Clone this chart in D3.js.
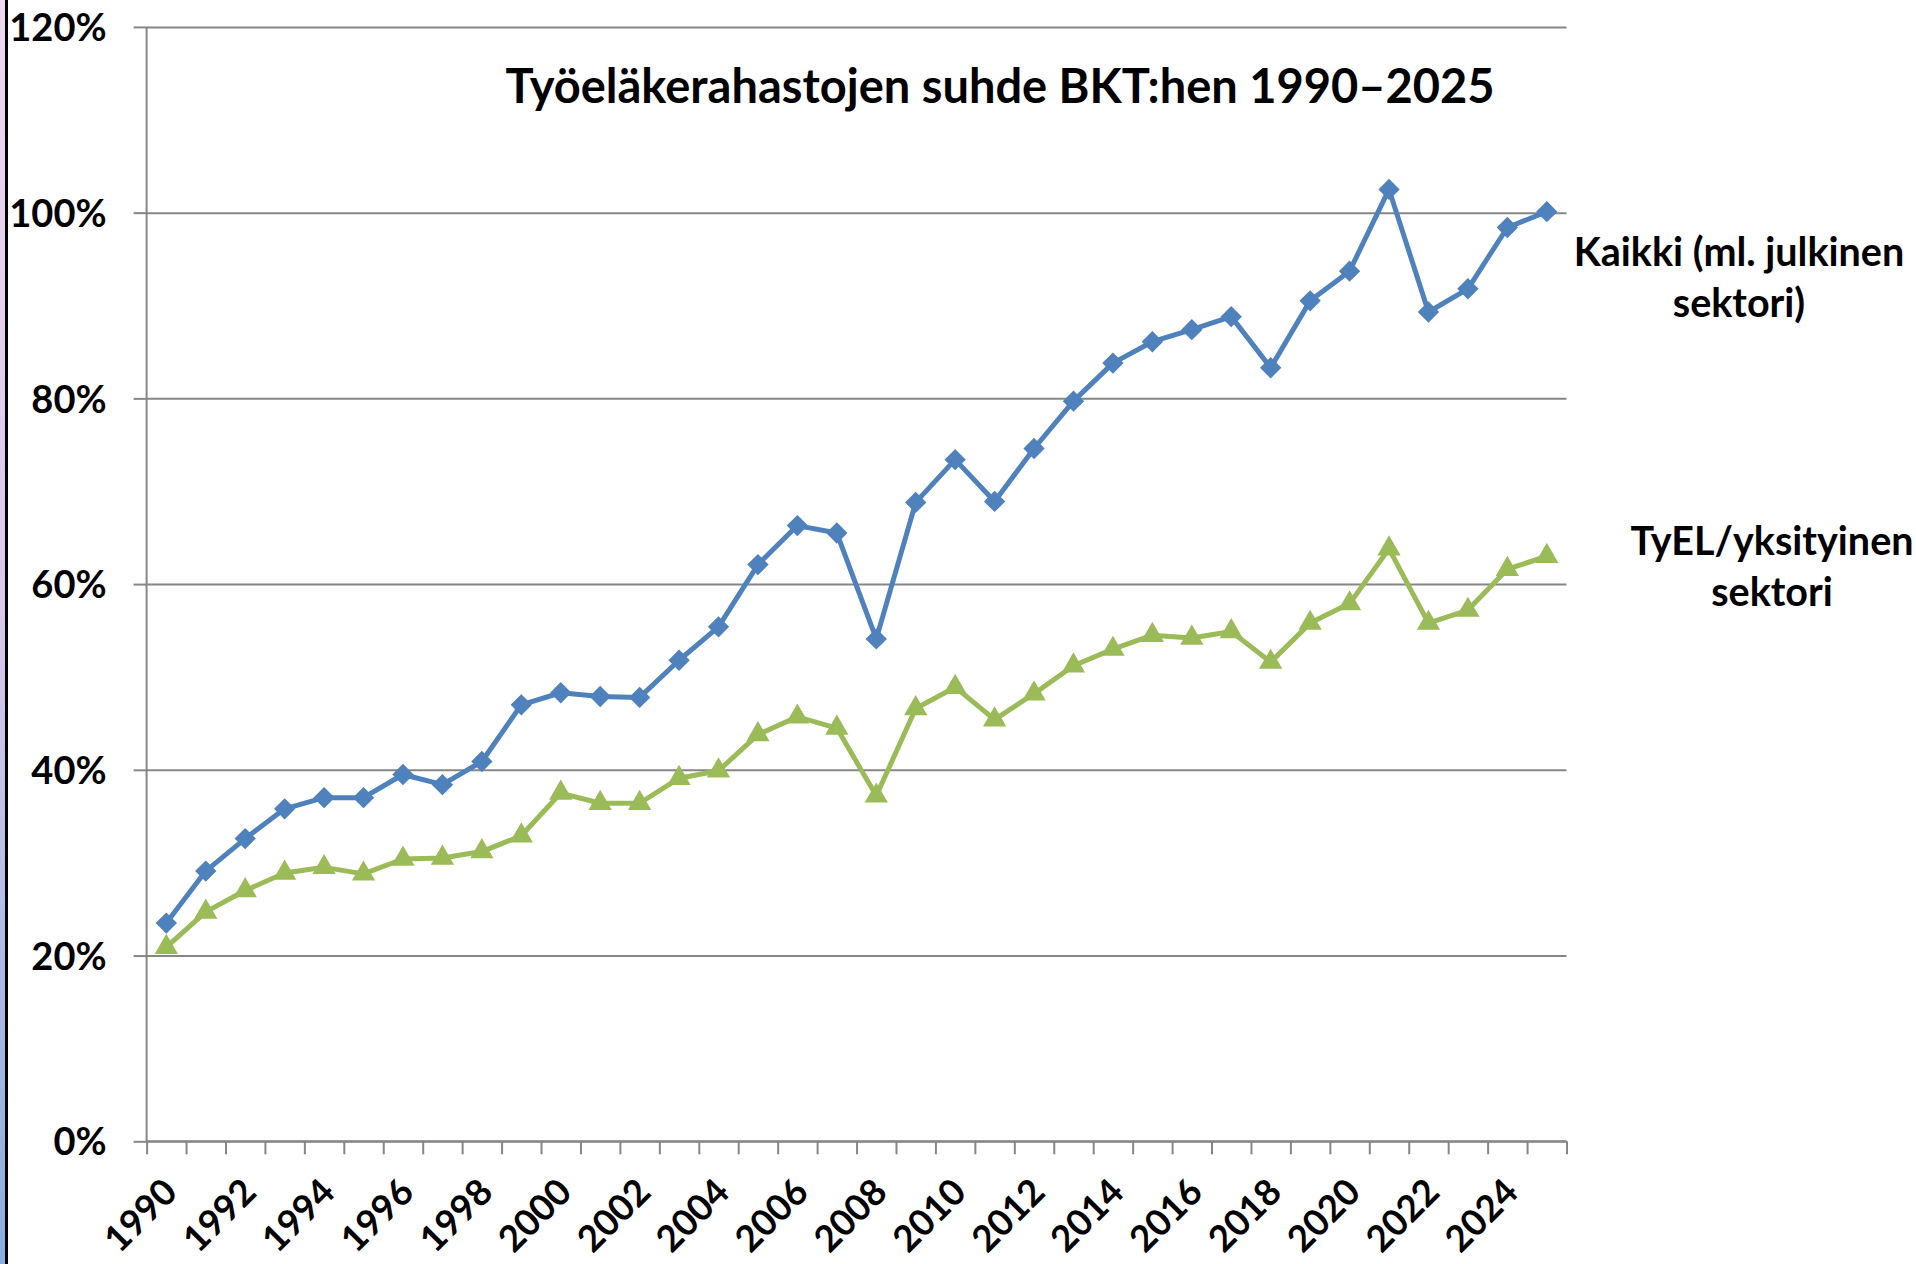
<!DOCTYPE html>
<html>
<head>
<meta charset="utf-8">
<script src="https://cdn.jsdelivr.net/npm/d3@7"></script>
<style>
  body { margin: 0; background: #fff; }
  svg { display: block; }
  text { font-family: Lato, "Open Sans", sans-serif; font-weight: 700; fill: #000; }
</style>
</head>
<body>
<div id="chart"></div>
<script>
"use strict";

// data (share of GDP)
var years = d3.range(1990, 2026);
var kaikki = [0.235, 0.291, 0.326, 0.358, 0.370, 0.370, 0.395, 0.384, 0.409, 0.470,
              0.483, 0.479, 0.478, 0.518, 0.554, 0.621, 0.663, 0.655, 0.541, 0.688,
              0.734, 0.689, 0.746, 0.797, 0.838, 0.861, 0.874, 0.888, 0.833, 0.905,
              0.937, 1.025, 0.893, 0.918, 0.984, 1.001];
var tyel = [0.209, 0.247, 0.270, 0.289, 0.295, 0.288, 0.304, 0.305, 0.312, 0.329,
            0.375, 0.364, 0.364, 0.391, 0.399, 0.438, 0.457, 0.445, 0.372, 0.466,
            0.489, 0.454, 0.482, 0.512, 0.530, 0.545, 0.542, 0.549, 0.516, 0.558,
            0.579, 0.638, 0.558, 0.572, 0.616, 0.630];
var yTicks = [0, 0.2, 0.4, 0.6, 0.8, 1.0, 1.2];
var labelYears = d3.range(1990, 2025, 2);
var title = "Työeläkerahastojen suhde BKT:hen 1990–2025";
var kaikkiLabel = ["Kaikki (ml. julkinen", "sektori)"];
var tyelLabel = ["TyEL/yksityinen", "sektori"];

var width = 1916, height = 1264;
var plotLeft = 146.6, plotRight = 1566.5, plotTop = 26.9, plotBottom = 1141.3;
var gray = "#868686";
var blue = "#4F81BD", green = "#9BBB59";

var svg = d3.select("#chart").append("svg")
  .attr("width", width)
  .attr("height", height);

// slide edge on the left
var grad = svg.append("defs").append("linearGradient")
  .attr("id", "edge").attr("x1", 0).attr("y1", 0).attr("x2", 0).attr("y2", 1);
grad.append("stop").attr("offset", "0%").attr("stop-color", "#eed8f0");
grad.append("stop").attr("offset", "50%").attr("stop-color", "#d6c8ea");
grad.append("stop").attr("offset", "100%").attr("stop-color", "#8aaee0");
svg.append("rect").attr("x", 0).attr("y", 0).attr("width", 5).attr("height", height).attr("fill", "url(#edge)");
svg.append("rect").attr("x", 5).attr("y", 0).attr("width", 3).attr("height", height).attr("fill", "#000");

var x = d3.scaleBand().domain(years).range([plotLeft, plotRight]);
var xEdge = d3.scaleLinear().domain([0, years.length]).range([plotLeft, plotRight]);
var y = d3.scaleLinear().domain([0, 1.2]).range([plotBottom, plotTop]);
var cx = function (yr) { return x(yr) + x.bandwidth() / 2; };

// horizontal grid
var grid = svg.append("g")
  .attr("transform", "translate(" + plotLeft + ",0)")
  .call(d3.axisLeft(y).tickValues(yTicks).tickSize(-(plotRight - plotLeft)).tickFormat(""));
grid.select(".domain").remove();
grid.selectAll("line").attr("stroke", gray).attr("stroke-width", 2);

// y axis
var yAxis = svg.append("g")
  .attr("transform", "translate(" + plotLeft + ",0)")
  .call(d3.axisLeft(y).tickValues(yTicks).tickSize(13).tickPadding(27)
    .tickFormat(function (d) { return Math.round(d * 100) + "%"; }));
yAxis.select(".domain").attr("stroke", gray).attr("stroke-width", 2).attr("d", "M0," + plotTop + "V" + plotBottom);
yAxis.selectAll("line").attr("stroke", gray).attr("stroke-width", 2);
yAxis.selectAll("text").style("font-size", "38px").attr("dy", "0.36em");

// x axis, ticks between categories
var xAxis = svg.append("g")
  .attr("transform", "translate(0," + plotBottom + ")")
  .call(d3.axisBottom(xEdge).tickValues(d3.range(years.length + 1)).tickSize(13).tickFormat(""));
xAxis.select(".domain").attr("stroke", gray).attr("stroke-width", 2).attr("d", "M" + plotLeft + ",0H" + plotRight);
xAxis.selectAll("line").attr("stroke", gray).attr("stroke-width", 2);

svg.append("g").selectAll("text")
  .data(labelYears)
  .enter().append("text")
  .attr("text-anchor", "end")
  .attr("transform", function (d) { return "translate(" + (cx(d) + 13) + "," + (plotBottom + 53) + ") rotate(-45)"; })
  .style("font-size", "36.5px")
  .text(function (d) { return d; });

// series
var series = [
  { name: "kaikki", values: kaikki, color: blue, symbol: d3.symbolDiamond2, size: 290 },
  { name: "tyel", values: tyel, color: green, symbol: d3.symbolTriangle, size: 235 }
];

var line = d3.line()
  .x(function (d, i) { return cx(years[i]); })
  .y(function (d) { return y(d); });

series.forEach(function (s) {
  var g = svg.append("g").attr("class", s.name);
  g.append("path")
    .attr("d", line(s.values))
    .attr("fill", "none")
    .attr("stroke", s.color)
    .attr("stroke-width", 5)
    .attr("stroke-linejoin", "round");
  g.selectAll("path.marker")
    .data(s.values)
    .enter().append("path")
    .attr("class", "marker")
    .attr("transform", function (d, i) { return "translate(" + cx(years[i]) + "," + y(d) + ")"; })
    .attr("d", d3.symbol().type(s.symbol).size(s.size))
    .attr("fill", s.color);
});

// title
svg.append("text")
  .attr("x", 1000).attr("y", 103)
  .attr("text-anchor", "middle")
  .style("font-size", "47px")
  .text(title);

// series labels
function label(lines, xc, y0) {
  svg.append("g").selectAll("text")
    .data(lines)
    .enter().append("text")
    .attr("x", xc)
    .attr("y", function (d, i) { return y0 + i * 51; })
    .attr("text-anchor", "middle")
    .style("font-size", "39.5px")
    .text(function (d) { return d; });
}
label(kaikkiLabel, 1739, 266);
label(tyelLabel, 1772, 555);
</script>
</body>
</html>
